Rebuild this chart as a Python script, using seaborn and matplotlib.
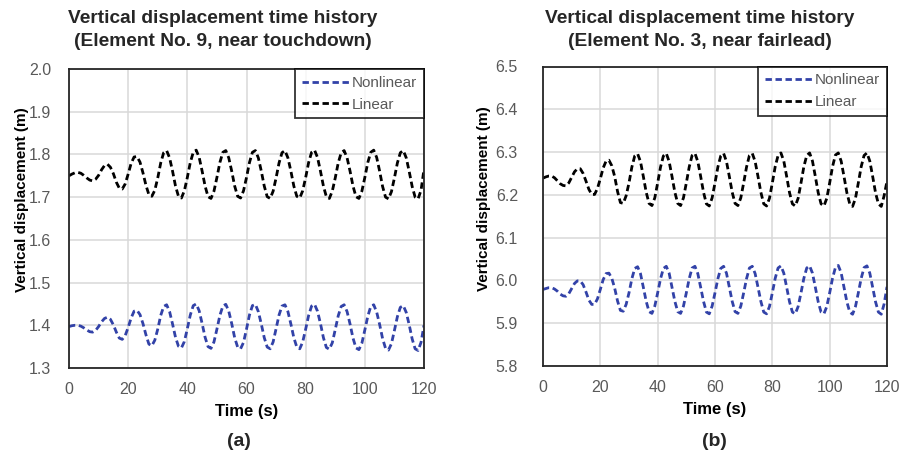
import matplotlib
matplotlib.use("Agg")
import matplotlib.pyplot as plt
import seaborn as sns
import pandas as pd

# ---------------- data ----------------
time_s = list(range(0, 121))

left_nonlinear = [
    1.397, 1.399, 1.400, 1.400, 1.398, 1.394, 1.389, 1.385, 1.384, 1.388,
    1.397, 1.408, 1.416, 1.419, 1.414, 1.401, 1.384, 1.370, 1.367, 1.376,
    1.395, 1.417, 1.433, 1.435, 1.425, 1.404, 1.378, 1.356, 1.352, 1.365,
    1.391, 1.423, 1.444, 1.448, 1.432, 1.403, 1.372, 1.351, 1.347, 1.362,
    1.392, 1.424, 1.446, 1.450, 1.434, 1.404, 1.372, 1.350, 1.346, 1.361,
    1.391, 1.423, 1.445, 1.449, 1.433, 1.404, 1.371, 1.349, 1.345, 1.360,
    1.391, 1.424, 1.446, 1.449, 1.432, 1.403, 1.371, 1.349, 1.345, 1.361,
    1.392, 1.424, 1.445, 1.448, 1.432, 1.403, 1.371, 1.349, 1.345, 1.361,
    1.391, 1.423, 1.445, 1.449, 1.433, 1.404, 1.371, 1.348, 1.344, 1.359,
    1.390, 1.422, 1.444, 1.448, 1.432, 1.403, 1.370, 1.347, 1.343, 1.358,
    1.389, 1.421, 1.444, 1.448, 1.431, 1.402, 1.369, 1.346, 1.342, 1.357,
    1.388, 1.420, 1.442, 1.446, 1.430, 1.401, 1.368, 1.345, 1.341, 1.360,
    1.400,
]

left_linear = [
    1.750, 1.754, 1.757, 1.758, 1.756, 1.751, 1.745, 1.740, 1.738, 1.742,
    1.751, 1.764, 1.774, 1.777, 1.770, 1.755, 1.735, 1.721, 1.719, 1.731,
    1.754, 1.779, 1.794, 1.795, 1.782, 1.757, 1.728, 1.706, 1.702, 1.716,
    1.745, 1.780, 1.804, 1.809, 1.792, 1.761, 1.726, 1.702, 1.698, 1.715,
    1.746, 1.781, 1.805, 1.810, 1.793, 1.761, 1.726, 1.701, 1.697, 1.714,
    1.746, 1.781, 1.805, 1.809, 1.792, 1.761, 1.726, 1.702, 1.698, 1.715,
    1.746, 1.781, 1.805, 1.809, 1.792, 1.761, 1.726, 1.701, 1.697, 1.714,
    1.745, 1.780, 1.804, 1.809, 1.792, 1.761, 1.726, 1.702, 1.698, 1.715,
    1.746, 1.781, 1.805, 1.810, 1.793, 1.761, 1.726, 1.701, 1.697, 1.714,
    1.745, 1.780, 1.804, 1.809, 1.792, 1.761, 1.726, 1.701, 1.697, 1.714,
    1.746, 1.781, 1.805, 1.810, 1.793, 1.761, 1.725, 1.700, 1.696, 1.713,
    1.745, 1.780, 1.804, 1.809, 1.792, 1.760, 1.725, 1.700, 1.696, 1.716,
    1.765,
]

right_nonlinear = [
    5.979, 5.981, 5.983, 5.983, 5.980, 5.975, 5.968, 5.964, 5.963, 5.969,
    5.981, 5.993, 5.999, 5.999, 5.990, 5.973, 5.954, 5.944, 5.944, 5.957,
    5.979, 6.002, 6.016, 6.017, 6.005, 5.982, 5.952, 5.930, 5.928, 5.944,
    5.971, 6.004, 6.028, 6.032, 6.016, 5.984, 5.951, 5.927, 5.923, 5.940,
    5.971, 6.004, 6.028, 6.033, 6.017, 5.984, 5.951, 5.927, 5.923, 5.940,
    5.971, 6.004, 6.029, 6.033, 6.016, 5.984, 5.951, 5.926, 5.922, 5.940,
    5.971, 6.004, 6.028, 6.033, 6.017, 5.984, 5.951, 5.927, 5.923, 5.940,
    5.971, 6.004, 6.029, 6.033, 6.016, 5.984, 5.951, 5.926, 5.922, 5.939,
    5.971, 6.005, 6.029, 6.034, 6.017, 5.984, 5.950, 5.926, 5.922, 5.939,
    5.971, 6.005, 6.029, 6.034, 6.017, 5.984, 5.950, 5.926, 5.922, 5.939,
    5.971, 6.005, 6.030, 6.035, 6.018, 5.984, 5.950, 5.926, 5.921, 5.939,
    5.971, 6.005, 6.030, 6.034, 6.017, 5.984, 5.950, 5.926, 5.921, 5.945,
    5.985,
]

right_linear = [
    6.239, 6.242, 6.244, 6.244, 6.240, 6.233, 6.226, 6.222, 6.221, 6.228,
    6.241, 6.254, 6.261, 6.261, 6.250, 6.232, 6.213, 6.201, 6.201, 6.215,
    6.238, 6.263, 6.279, 6.281, 6.268, 6.243, 6.208, 6.182, 6.180, 6.198,
    6.228, 6.265, 6.291, 6.296, 6.278, 6.243, 6.206, 6.180, 6.175, 6.193,
    6.228, 6.265, 6.291, 6.297, 6.278, 6.243, 6.206, 6.180, 6.175, 6.193,
    6.228, 6.265, 6.292, 6.297, 6.278, 6.243, 6.206, 6.179, 6.174, 6.193,
    6.228, 6.265, 6.291, 6.297, 6.278, 6.243, 6.206, 6.180, 6.175, 6.193,
    6.228, 6.265, 6.292, 6.297, 6.278, 6.243, 6.206, 6.179, 6.174, 6.192,
    6.228, 6.266, 6.292, 6.298, 6.279, 6.243, 6.205, 6.179, 6.174, 6.192,
    6.228, 6.266, 6.292, 6.298, 6.279, 6.243, 6.205, 6.179, 6.174, 6.192,
    6.228, 6.266, 6.293, 6.298, 6.279, 6.243, 6.205, 6.179, 6.173, 6.192,
    6.228, 6.266, 6.292, 6.298, 6.279, 6.243, 6.205, 6.179, 6.173, 6.198,
    6.232,
]

series_names = ["Nonlinear", "Linear"]
panel_titles = [
    "Vertical displacement time history\n(Element No. 9, near touchdown)",
    "Vertical displacement time history\n(Element No. 3, near fairlead)",
]
panel_tags = ["(a)", "(b)"]
y_ticks_left = [1.3, 1.4, 1.5, 1.6, 1.7, 1.8, 1.9, 2.0]
y_ticks_right = [5.8, 5.9, 6.0, 6.1, 6.2, 6.3, 6.4, 6.5]
x_ticks = [0, 20, 40, 60, 80, 100, 120]

# ---------------- style ----------------
sns.set_theme(style="white")
plt.rcParams["font.family"] = ["Liberation Sans", "DejaVu Sans"]

colors = {"Nonlinear": "#3242A8", "Linear": "#000000"}
tick_gray = "#595959"

fig = plt.figure(figsize=(9.01, 4.53), dpi=100)
W, H = 901, 453

def px_axes(x0, y0, x1, y1):
    return fig.add_axes([x0 / W, 1 - y1 / H, (x1 - x0) / W, (y1 - y0) / H])

ax_l = px_axes(69, 69, 424, 368)
ax_r = px_axes(543, 66.5, 887, 366)

panels = [
    # axes, nonlinear, linear, yticks, y-tick pad, ylabel x, ylabel y
    (ax_l, left_nonlinear, left_linear, y_ticks_left, 13, -0.112, 0.562),
    (ax_r, right_nonlinear, right_linear, y_ticks_right, 18, -0.150, 0.558),
]

for ax, nl, lin, yt, ypad, ylx, yly in panels:
    df = pd.DataFrame({
        "t": time_s * 2,
        "v": nl + lin,
        "series": ["Nonlinear"] * len(time_s) + ["Linear"] * len(time_s),
    })
    sns.lineplot(data=df, x="t", y="v", hue="series", hue_order=series_names,
                 palette=colors, ax=ax, linewidth=2.0, legend=False,
                 linestyle=(0, (2.3, 1.3)))
    ax.set_xlim(0, 120)
    ax.set_ylim(yt[0], yt[-1])
    ax.set_xticks(x_ticks)
    ax.set_yticks(yt)
    ax.set_yticklabels([f"{v:.1f}" for v in yt])
    ax.grid(True, color="#D9D9D9", linewidth=1.1)
    ax.set_axisbelow(True)
    for s in ax.spines.values():
        s.set_color("#262626")
        s.set_linewidth(1.3)
    ax.tick_params(axis="both", length=0, labelsize=11.5, colors=tick_gray)
    ax.tick_params(axis="x", pad=10)
    ax.tick_params(axis="y", pad=ypad)
    ax.set_xlabel("Time (s)", fontsize=12, fontweight="bold", color="black")
    ax.set_ylabel("Vertical displacement (m)", fontsize=11, fontweight="bold", color="black")
    ax.xaxis.set_label_coords(0.5, -0.120)
    ax.yaxis.set_label_coords(ylx, yly)

    handles = [ax.lines[0], ax.lines[1]]
    leg = ax.legend(handles, series_names, loc="upper right", bbox_to_anchor=(1.0, 1.0),
                    borderaxespad=0, fancybox=False, frameon=True, fontsize=11,
                    handlelength=3.1, handletextpad=0.15, borderpad=0.45,
                    labelspacing=0.5)
    leg.get_frame().set_edgecolor("black")
    leg.get_frame().set_linewidth(1.3)
    for txt in leg.get_texts():
        txt.set_color(tick_gray)

# titles and tags
fig.text(222.5 / W, 1 - 30 / H, panel_titles[0], ha="center", va="center",
         fontsize=13.8, fontweight="bold", linespacing=1.4)
fig.text(699.5 / W, 1 - 30 / H, panel_titles[1], ha="center", va="center",
         fontsize=13.8, fontweight="bold", linespacing=1.4)
fig.text(239 / W, 1 - 442 / H, panel_tags[0], ha="center", va="center",
         fontsize=14, fontweight="bold")
fig.text(714 / W, 1 - 442 / H, panel_tags[1], ha="center", va="center",
         fontsize=14, fontweight="bold")

fig.savefig("out.png", dpi=100)
